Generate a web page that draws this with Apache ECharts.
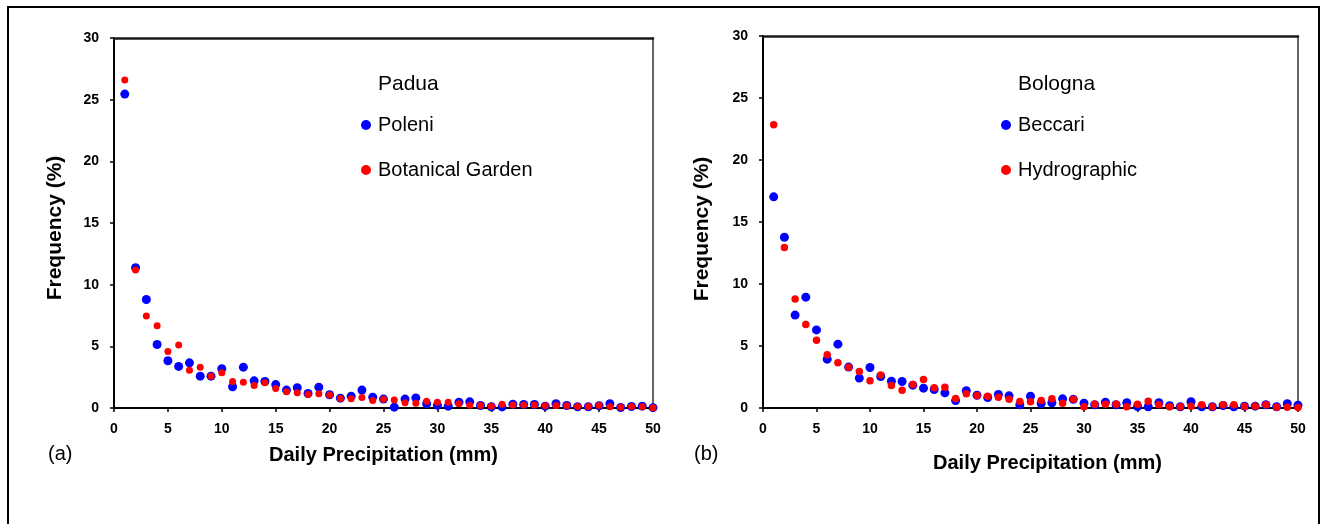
<!DOCTYPE html>
<html>
<head>
<meta charset="utf-8">
<script src="https://cdn.jsdelivr.net/npm/echarts@6/dist/echarts.min.js"></script>
<style>
html,body{margin:0;padding:0;background:#fff;}
#chart{width:1325px;height:524px;}
</style>
</head>
<body>
<div id="chart"></div>
<script>
// Daily precipitation classes (mm)
const precipMm = [1,2,3,4,5,6,7,8,9,10,11,12,13,14,15,16,17,18,19,20,21,22,23,24,25,26,27,28,29,30,31,32,33,34,35,36,37,38,39,40,41,42,43,44,45,46,47,48,49,50];
const xTicks = [0,5,10,15,20,25,30,35,40,45,50];
const yTicks = [0,5,10,15,20,25,30];

// (a) Padua
const poleni = [25.45,11.37,8.8,5.15,3.83,3.37,3.66,2.58,2.58,3.18,1.72,3.31,2.2,2.15,1.9,1.45,1.64,1.18,1.69,1.07,0.8,0.96,1.45,0.88,0.72,0.07,0.72,0.82,0.34,0.23,0.15,0.47,0.5,0.2,0.1,0.09,0.3,0.28,0.28,0.15,0.34,0.2,0.1,0.1,0.18,0.34,0.04,0.12,0.15,0.03];
const botanicalGarden = [26.6,11.18,7.45,6.67,4.58,5.1,3.07,3.31,2.58,2.85,2.15,2.09,1.82,2.04,1.58,1.31,1.23,1.09,1.15,1.05,0.78,0.75,0.85,0.61,0.7,0.64,0.42,0.39,0.55,0.47,0.47,0.34,0.23,0.2,0.14,0.31,0.25,0.25,0.25,0.18,0.2,0.18,0.12,0.12,0.2,0.1,0.06,0.12,0.1,0.03];

// (b) Bologna
const beccari = [17.03,13.77,7.49,8.94,6.3,3.94,5.15,3.3,2.41,3.27,2.54,2.16,2.14,1.84,1.6,1.49,1.22,0.6,1.4,1.03,0.85,1.09,0.98,0.26,0.95,0.36,0.42,0.74,0.7,0.39,0.26,0.47,0.26,0.42,0.12,0.1,0.42,0.18,0.1,0.5,0.1,0.1,0.2,0.1,0.15,0.15,0.26,0.1,0.34,0.23];
const hydrographic = [22.84,12.94,8.8,6.73,5.47,4.29,3.64,3.29,2.94,2.19,2.67,1.81,1.44,1.9,2.3,1.63,1.68,0.76,1.15,1.0,0.95,0.87,0.71,0.52,0.5,0.6,0.74,0.39,0.71,0.1,0.31,0.31,0.3,0.1,0.31,0.55,0.26,0.1,0.1,0.15,0.26,0.1,0.26,0.26,0.12,0.15,0.26,0.07,0.07,0.04];

const FONT = '"Liberation Sans", Arial, sans-serif';
const BLUE = '#0000ff';
const RED = '#ff0000';

function pairs(xs, ys){ return xs.map((x,i)=>[x, ys[i]]); }

function mainX(grid, gap, shift){
  return {
    type:'value', gridIndex:grid, min:xTicks[0], max:xTicks[xTicks.length-1], interval:xTicks[1]-xTicks[0],
    name:'Daily Precipitation (mm)', nameLocation:'middle', nameGap:gap,
    nameTextStyle:{fontFamily:FONT, fontWeight:'bold', fontSize:20, color:'#000', padding:[0,0,0,shift]},
    axisLine:{show:true, onZero:false, lineStyle:{color:'#000', width:2}},
    axisTick:{show:true, inside:false, length:4, lineStyle:{color:'#000', width:1.5}},
    axisLabel:{show:true, margin:14, fontFamily:FONT, fontWeight:'bold', fontSize:14, color:'#000', showMinLabel:true, showMaxLabel:true},
    splitLine:{show:false}
  };
}
function topX(grid){
  return {
    type:'value', gridIndex:grid, position:'top', min:0, max:50, interval:5,
    axisLine:{show:true, onZero:false, lineStyle:{color:'#1a1a1a', width:2.5}},
    axisTick:{show:false}, axisLabel:{show:false}, splitLine:{show:false}
  };
}
function mainY(grid, gap, shift){
  return {
    type:'value', gridIndex:grid, min:yTicks[0], max:yTicks[yTicks.length-1], interval:yTicks[1]-yTicks[0],
    name:'Frequency (%)', nameLocation:'middle', nameGap:gap, nameRotate:90,
    nameTextStyle:{fontFamily:FONT, fontWeight:'bold', fontSize:21, color:'#000', padding:[0,shift,0,0]},
    axisLine:{show:true, onZero:false, lineStyle:{color:'#000', width:2}},
    axisTick:{show:true, inside:false, length:4, lineStyle:{color:'#000', width:1.5}},
    axisLabel:{show:true, margin:15, fontFamily:FONT, fontWeight:'bold', fontSize:14, color:'#000', showMinLabel:true, showMaxLabel:true},
    splitLine:{show:false}
  };
}
function rightY(grid){
  return {
    type:'value', gridIndex:grid, position:'right', min:0, max:30, interval:5,
    axisLine:{show:true, onZero:false, lineStyle:{color:'#333', width:1.5}},
    axisTick:{show:false}, axisLabel:{show:false}, splitLine:{show:false}
  };
}
function scatter(name, xi, yi, data, color, size){
  return {
    name:name, type:'scatter', xAxisIndex:xi, yAxisIndex:yi, data:data,
    symbol:'circle', symbolSize:size, clip:false,
    itemStyle:{color:color, opacity:1}, emphasis:{disabled:true}
  };
}
function legend(names, left, top){
  return {
    data:names, orient:'vertical', left:left, top:top, padding:0,
    itemGap:25, itemWidth:10, itemHeight:10, icon:'circle', selectedMode:false,
    textStyle:{fontFamily:FONT, fontSize:20, color:'#000', padding:[0,0,0,2]}
  };
}
function label(text, x, y, size){
  return {type:'text', left:x, top:y - size*0.6, style:{text:text, fill:'#000', font:size+'px '+FONT}};
}

const chart = echarts.init(document.getElementById('chart'), null, {renderer:'canvas'});
chart.setOption({
  animation:false,
  backgroundColor:'#fff',
  grid:[
    {left:114, top:38, width:539, height:370, containLabel:false},
    {left:763, top:36, width:535, height:372, containLabel:false}
  ],
  xAxis:[mainX(0, 37, 0), topX(0), mainX(1, 45, 34), topX(1)],
  yAxis:[mainY(0, 48, 10), rightY(0), mainY(1, 50, 14), rightY(1)],
  legend:[
    legend(['Poleni','Botanical Garden'], 361, 115),
    legend(['Beccari','Hydrographic'], 1001, 115)
  ],
  series:[
    scatter('Poleni', 0, 0, pairs(precipMm, poleni), BLUE, 9),
    scatter('Botanical Garden', 0, 0, pairs(precipMm, botanicalGarden), RED, 7),
    scatter('Beccari', 2, 2, pairs(precipMm, beccari), BLUE, 9),
    scatter('Hydrographic', 2, 2, pairs(precipMm, hydrographic), RED, 7.5)
  ],
  graphic:[
    {type:'polyline', shape:{points:[[8,524],[8,7],[1319,7],[1319,524]]}, style:{stroke:'#000', lineWidth:2, fill:null}},
    label('Padua', 378, 86, 21),
    label('Bologna', 1018, 86, 21),
    label('(a)', 48, 456, 20),
    label('(b)', 694, 456, 20)
  ]
});
</script>
</body>
</html>
